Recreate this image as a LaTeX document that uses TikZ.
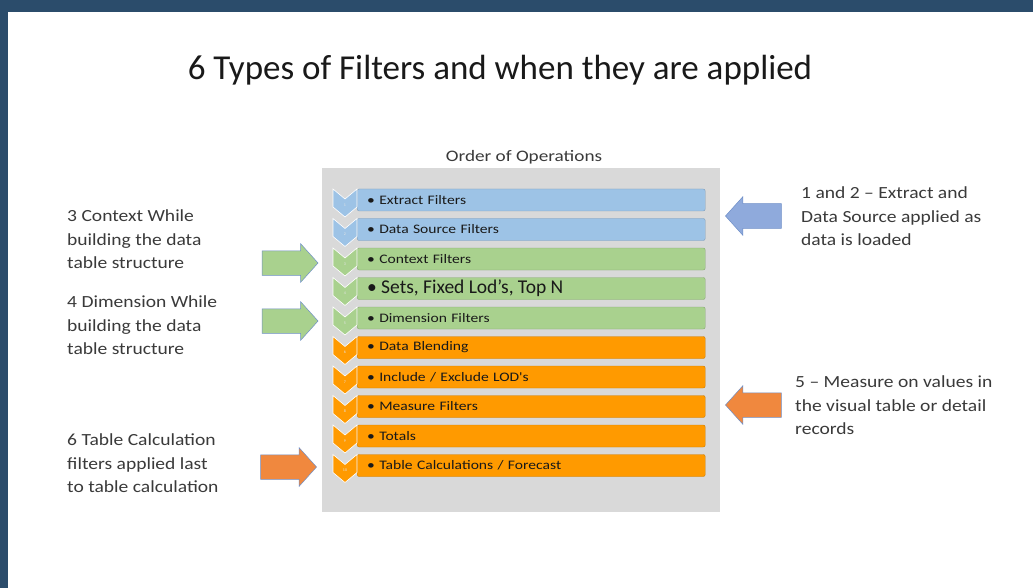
\documentclass[tikz,border=0pt]{standalone}
\usepackage{fontspec}
\setmainfont{Carlito}
\newfontfamily\barfont[FakeStretch=1.2]{Carlito}
\newfontfamily\notefont[FakeStretch=1.15]{Carlito}
\newfontfamily\oofont[FakeStretch=1.2]{Carlito}
\usetikzlibrary{shapes.arrows}
\definecolor{frameblue}{HTML}{2B4C6B}
\definecolor{boxgray}{HTML}{D9D9D9}
\definecolor{barblue}{HTML}{9DC3E6}
\definecolor{bargreen}{HTML}{A9D18E}
\definecolor{barorange}{HTML}{FF9A00}
\definecolor{arrgreen}{HTML}{A9D18E}
\definecolor{arrorange}{HTML}{F0883E}
\definecolor{arrblue}{HTML}{8FAADC}
\definecolor{arrline}{HTML}{6F8FC8}
\definecolor{txt}{HTML}{3A3A3A}
\tikzset{
  bar/.style={draw=#1!80!black, line width=0.4pt, fill=#1, rounded corners=2pt,
    minimum width=348pt, minimum height=22pt, anchor=west, inner sep=0pt,
    text width=340pt, align=left, font=\barfont\fontsize{13}{14}\selectfont, text=black!90},
  num/.style={font=\fontsize{4}{4}\selectfont, text=white!80!gray, inner sep=0pt},
  note/.style={anchor=north west, align=left, inner sep=0pt, text=txt,
    font=\notefont\fontsize{17}{23.5}\selectfont},
  bigarrow/.style={single arrow, fill=#1, draw=arrline, line width=0.5pt,
    minimum height=56pt, minimum width=38pt, single arrow head extend=7pt,
    single arrow tip angle=96, inner xsep=0pt, inner ysep=12pt},
}
\begin{document}
\begin{tikzpicture}[x=1pt,y=-1pt]
\useasboundingbox (0,0) rectangle (1033,588);
\fill[white] (0,0) rectangle (1033,588);
\fill[frameblue] (0,0) rectangle (1033,12);
\fill[frameblue] (0,0) rectangle (8,588);
\node[font=\fontsize{35}{37}\selectfont, text=black!90] (title) at (500,70) {6 Types of Filters and when they are applied};
\node[font=\oofont\fontsize{16}{18}\selectfont, text=txt] (oo) at (524,157) {Order of Operations};
\node[fill=boxgray, minimum width=398pt, minimum height=344pt, anchor=north west, inner sep=0pt] (box) at (322,168) {};
% rows
\foreach \i/\lab/\col in {
  1/{\textbullet\ Extract Filters}/barblue,
  2/{\textbullet\ Data Source Filters}/barblue,
  3/{\textbullet\ Context Filters}/bargreen,
  4/{\rmfamily\fontsize{19.5}{20}\selectfont\textbullet\ Sets, Fixed Lod's, Top N}/bargreen,
  5/{\textbullet\ Dimension Filters}/bargreen,
  6/{\textbullet\ Data Blending}/barorange,
  7/{\textbullet\ Include / Exclude LOD's}/barorange,
  8/{\textbullet\ Measure Filters}/barorange,
  9/{\textbullet\ Totals}/barorange,
  10/{\textbullet\ Table Calculations / Forecast}/barorange}{
  \pgfmathsetmacro{\yc}{200+(\i-1)*29.5}
  \node[bar=\col] (bar\i) at (357,\yc) {\hspace*{6pt}\lab};
  \fill[\col, draw=white, line width=0.6pt]
    (333,\yc-11) -- (345,\yc-1) -- (357,\yc-11) -- (357,\yc+7) -- (345,\yc+17) -- (333,\yc+7) -- cycle;
  \node[num] (n\i) at (345,\yc+5) {\i};
}
% notes
\node[note] (t3) at (67,209.5) {3 Context While\\building the data\\table structure};
\node[note] (t4) at (67,295.5) {4 Dimension While\\building the data\\table structure};
\node[note] (t6) at (67,433.5) {6 Table Calculation\\filters applied last\\to table calculation};
\node[note] (t12) at (801,186.5) {1 and 2 – Extract and\\Data Source applied as\\data is loaded};
\node[note] (t5) at (795,375.5) {5 – Measure on values in\\the visual table or detail\\records};
% arrows
\node[bigarrow=arrgreen] (a3) at (284.5,263) {};
\node[bigarrow=arrgreen] (a4) at (284.5,321) {};
\node[bigarrow=arrorange] (a6) at (283,467) {};
\node[bigarrow=arrblue, shape border rotate=180] (a12) at (759,216) {};
\node[bigarrow=arrorange, shape border rotate=180] (a5) at (759,405) {};
\end{tikzpicture}
\end{document}
